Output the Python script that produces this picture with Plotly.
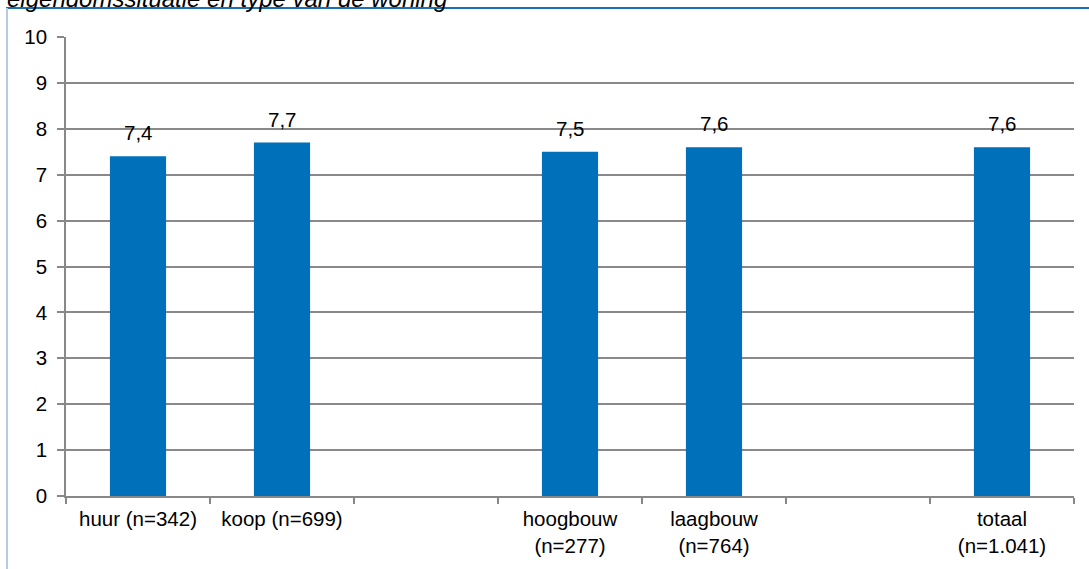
import plotly.graph_objects as go

categories = ["huur (n=342)", "koop (n=699)", " ", "hoogbouw<br>(n=277)",
              "laagbouw<br>(n=764)", "  ", "totaal<br>(n=1.041)"]
values = [7.4, 7.7, None, 7.5, 7.6, None, 7.6]
title_text = "eigendomssituatie en type van de woning"

W, H = 1089, 569
ml, mr, mt, mb = 66, 15, 37, 73
pw, ph = W - ml - mr, H - mt - mb
FS = 20.5
FONT = "Arial, Liberation Sans, sans-serif"

def px_x(x):
    return (x - ml) / pw

def px_y(y):
    return (H - mb - y) / ph

fig = go.Figure()
fig.add_trace(go.Bar(x=categories, y=values, marker_color="#0070BA",
                     marker_line_width=0, hoverinfo="skip"))

annotations = []
for c, v in zip(categories, values):
    if v is None:
        continue
    annotations.append(dict(x=c, y=v, xref="x", yref="y", text=f"{v:.1f}".replace(".", ","),
                            showarrow=False, yanchor="bottom", yshift=10,
                            font=dict(family=FONT, size=FS, color="#000")))
annotations.append(dict(x=px_x(5), y=px_y(14), xref="paper", yref="paper", xanchor="left",
                        yanchor="bottom", text=f"<i>{title_text}</i>", showarrow=False,
                        font=dict(family=FONT, size=24, color="#000")))

shapes = [
    dict(type="line", xref="paper", yref="paper", x0=px_x(6), x1=px_x(1089),
         y0=px_y(8), y1=px_y(8), line=dict(color="#1A6FB5", width=2)),
    dict(type="line", xref="paper", yref="paper", x0=px_x(7), x1=px_x(7),
         y0=px_y(8), y1=px_y(569), line=dict(color="#B3CBEA", width=2)),
]

fig.update_layout(
    width=W, height=H,
    margin=dict(l=ml, r=mr, t=mt, b=mb),
    paper_bgcolor="white", plot_bgcolor="white",
    bargap=0.61, showlegend=False,
    font=dict(family=FONT, size=FS, color="#000"),
    annotations=annotations, shapes=shapes,
)
fig.update_xaxes(type="category", tickson="boundaries", ticks="outside", ticklen=6,
                 tickcolor="#888888", tickwidth=1.5, showline=True, linecolor="#888888",
                 linewidth=1.5, showgrid=False, tickfont=dict(size=FS),
                 ticklabelstandoff=4,
                 categoryorder="array", categoryarray=categories)
fig.update_yaxes(range=[0, 10], dtick=1, ticks="outside", ticklen=7, tickcolor="#888888",
                 tickwidth=1.5, showline=True, linecolor="#888888", linewidth=1.5,
                 showgrid=True, gridcolor="#898989", gridwidth=1.5, zeroline=False,
                 ticklabelstandoff=6, tickfont=dict(size=FS))

fig.write_html("out.html")
